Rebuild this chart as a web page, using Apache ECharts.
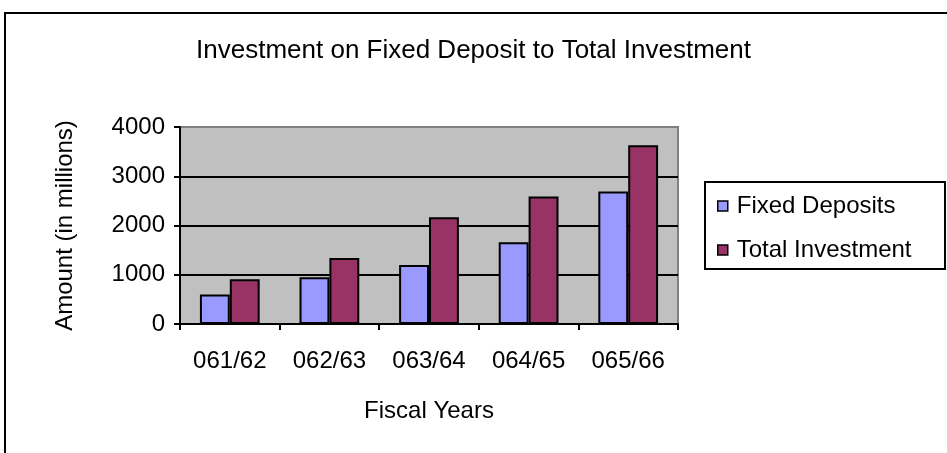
<!DOCTYPE html>
<html>
<head>
<meta charset="utf-8">
<script src="https://cdn.jsdelivr.net/npm/echarts@6/dist/echarts.min.js"></script>
<style>
  html, body { margin: 0; padding: 0; background: #fff; }
  #chart { width: 947px; height: 453px; }
</style>
</head>
<body>
<div id="chart"></div>
<script>
// data
var years = ['061/62', '062/63', '063/64', '064/65', '065/66']
var fixedDeposits = [600, 950, 1200, 1660, 2690]
var totalInvestment = [910, 1340, 2170, 2590, 3630]
var yTicks = { min: 0, max: 4000, interval: 1000 }

var font = 'Liberation Sans, Arial, sans-serif'

var chart = echarts.init(document.getElementById('chart'))
chart.setOption({
  animation: false,
  backgroundColor: '#fff',
  textStyle: { fontFamily: font, color: '#000' },
  title: {
    text: 'Investment on Fixed Deposit to Total Investment',
    left: 'center',
    top: 33,
    textStyle: { fontFamily: font, fontSize: 26, fontWeight: 'normal', color: '#000' }
  },
  graphic: [
    // outer chart frame, runs off the right and bottom edges
    { type: 'rect', shape: { x: 5, y: 13, width: 1000, height: 500 },
      style: { fill: 'none', stroke: '#000', lineWidth: 2 }, z: 0 },
    // legend frame
    { type: 'rect', shape: { x: 705, y: 182, width: 240, height: 87 },
      style: { fill: '#fff', stroke: '#000', lineWidth: 2 }, z: 1 }
  ],
  legend: {
    orient: 'vertical',
    left: 712,
    top: 189,
    itemWidth: 10,
    itemHeight: 10,
    itemGap: 20,
    icon: 'rect',
    itemStyle: { borderColor: '#000', borderWidth: 1.5 },
    textStyle: { fontFamily: font, fontSize: 24, color: '#000', lineHeight: 24, padding: [0, 0, 0, 4] },
    data: ['Fixed Deposits', 'Total Investment'],
    z: 5
  },
  grid: {
    left: 180, right: 269, top: 127, bottom: 129,
    show: true,
    backgroundColor: '#c0c0c0',
    borderColor: '#808080',
    borderWidth: 2
  },
  xAxis: {
    type: 'category',
    data: years,
    name: 'Fiscal Years',
    nameLocation: 'middle',
    nameGap: 75,
    nameTextStyle: { fontFamily: font, fontSize: 24, color: '#000' },
    axisLine: { lineStyle: { color: '#000', width: 2 } },
    axisTick: { show: true, length: 6, lineStyle: { color: '#000', width: 2 } },
    axisLabel: { fontFamily: font, fontSize: 24, color: '#000', margin: 25 }
  },
  yAxis: {
    type: 'value',
    min: yTicks.min,
    max: yTicks.max,
    interval: yTicks.interval,
    name: 'Amount (in millions)',
    nameLocation: 'middle',
    nameGap: 103,
    nameTextStyle: { fontFamily: font, fontSize: 24, color: '#000' },
    axisLine: { show: true, lineStyle: { color: '#000', width: 2 } },
    axisTick: { show: true, length: 6, lineStyle: { color: '#000', width: 2 } },
    axisLabel: { fontFamily: font, fontSize: 24, color: '#000', margin: 15,
      formatter: function (v) { return String(v) } },
    splitLine: {
      show: true,
      lineStyle: { color: ['#000', '#000', '#000', '#000', '#808080'], width: 2 }
    }
  },
  series: [
    {
      name: 'Fixed Deposits',
      type: 'bar',
      data: fixedDeposits,
      barGap: '0%',
      barCategoryGap: '40%',
      itemStyle: { color: '#9999ff', borderColor: '#000', borderWidth: 2 }
    },
    {
      name: 'Total Investment',
      type: 'bar',
      data: totalInvestment,
      barGap: '0%',
      barCategoryGap: '40%',
      itemStyle: { color: '#993366', borderColor: '#000', borderWidth: 2 }
    }
  ]
})
</script>
</body>
</html>
